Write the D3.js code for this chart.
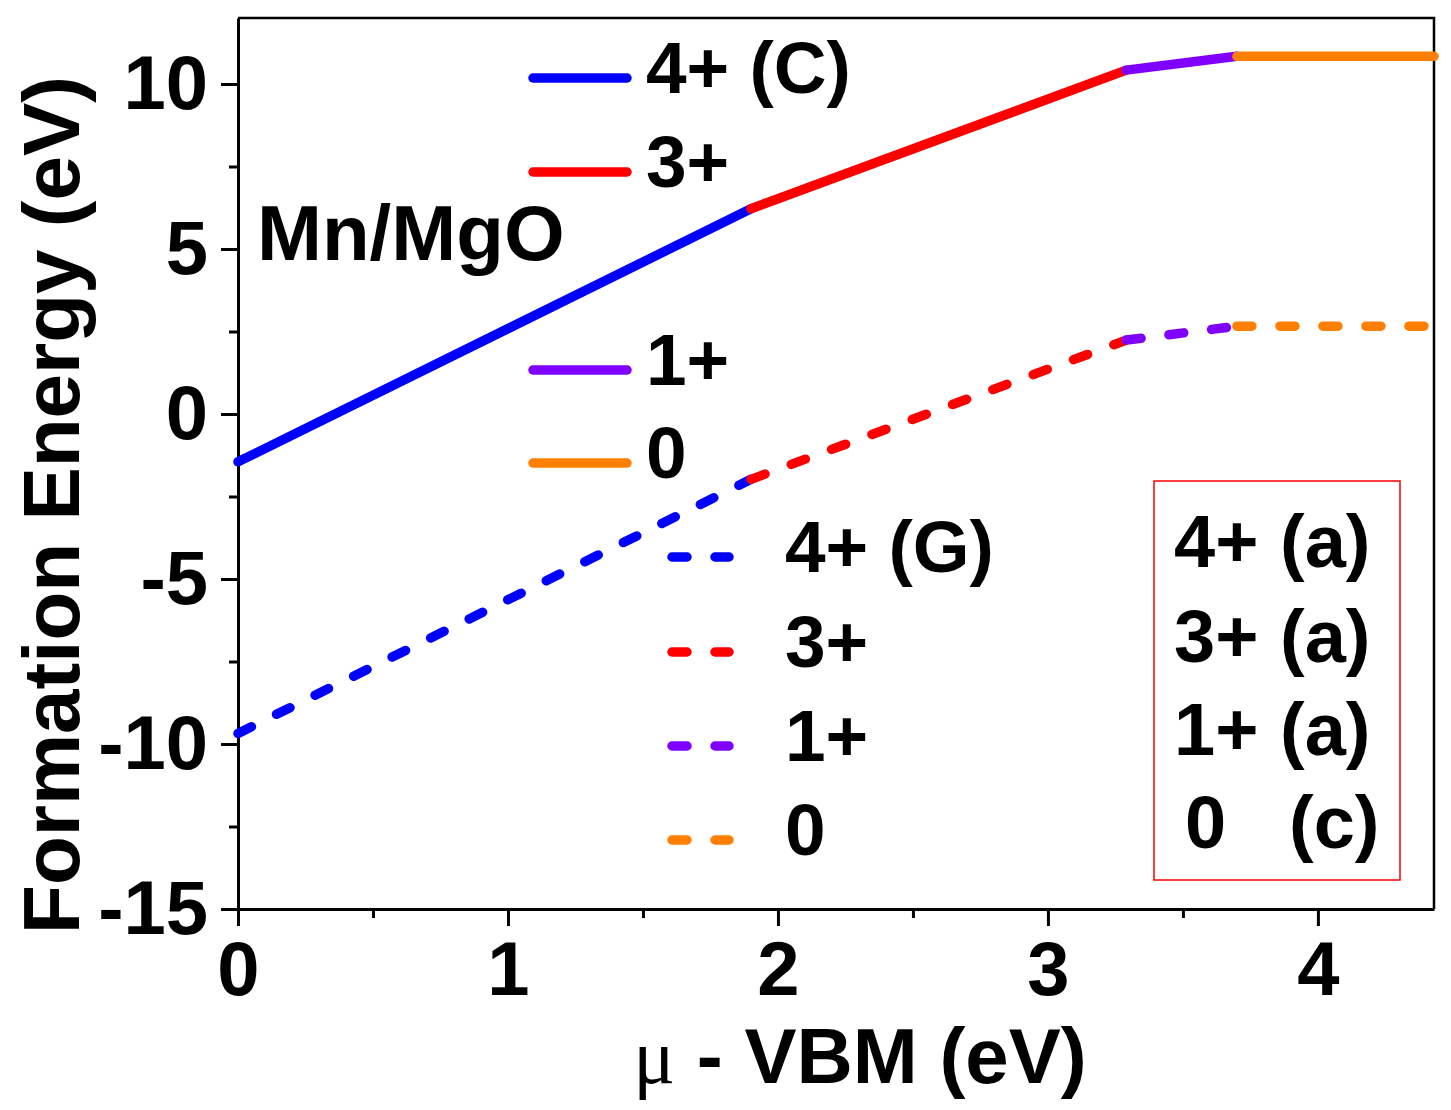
<!DOCTYPE html>
<html>
<head>
<meta charset="utf-8">
<script src="https://cdn.jsdelivr.net/npm/d3@7"></script>
<style>
  body { margin: 0; background: #fff; }
  svg text { font-family: "Liberation Sans", Arial, sans-serif; font-weight: bold; fill: #000; }
  .axis path, .axis line { stroke: #000; stroke-width: 3px; }
</style>
</head>
<body>
<div id="wrapper"></div>
<script>
// charge states and their colours
const charges = ['4+', '3+', '1+', '0'];
const chargeColors = ['#0000ff', '#ff0000', '#8000ff', '#ff8000'];

// breakpoints (mu - VBM) where the stable charge state changes
const breakX = [0, 1.9, 3.29, 3.7, 4.43];

// formation energy at those breakpoints
const solidE  = [-1.45, 6.22, 10.42, 10.84, 10.84];   // C site
const dashedE = [-9.68, -1.98, 2.24, 2.66, 2.66];     // G site

const solidLabels  = ['4+ (C)', '3+', '1+', '0'];
const dashedLabels = ['4+ (G)', '3+', '1+', '0'];
const boxLeft  = ['4+', '3+', '1+', '0'];
const boxRight = ['(a)', '(a)', '(a)', '(c)'];

const xTicks = [0, 1, 2, 3, 4];
const xMinor = [0.5, 1.5, 2.5, 3.5];
const yTicks = [-15, -10, -5, 0, 5, 10];
const yMinor = [-12.5, -7.5, -2.5, 2.5, 7.5];

let width = 1451, height = 1110;
let margin = { left: 238, top: 18, right: 17, bottom: 201 };

let svg = d3.select('div#wrapper')
  .append('svg')
  .attr('width', width)
  .attr('height', height);

let x = d3.scaleLinear()
  .domain([0, 4.43])
  .range([margin.left, width - margin.right]);

let y = d3.scaleLinear()
  .domain([-15, 12])
  .range([height - margin.bottom, margin.top]);

let plainNum = d => String(d);   // hyphen minus, no decimals

// frame (top / right)
svg.append('path')
  .attr('d', 'M' + x(0) + ',' + y(12) + 'H' + x(4.43) + 'V' + y(-15))
  .attr('fill', 'none')
  .attr('stroke', '#000')
  .attr('stroke-width', 2.5);

// minor ticks
svg.append('g')
  .attr('class', 'axis')
  .attr('transform', 'translate(0,' + y(-15) + ')')
  .call(d3.axisBottom(x).tickValues(xMinor).tickSize(9).tickFormat(''))
  .call(g => g.select('.domain').remove());

svg.append('g')
  .attr('class', 'axis')
  .attr('transform', 'translate(' + x(0) + ',0)')
  .call(d3.axisLeft(y).tickValues(yMinor).tickSize(9).tickFormat(''))
  .call(g => g.select('.domain').remove());

// major axes
let xAxis = svg.append('g')
  .attr('class', 'axis')
  .attr('transform', 'translate(0,' + y(-15) + ')')
  .call(d3.axisBottom(x).tickValues(xTicks).tickFormat(plainNum)
    .tickSizeInner(17).tickSizeOuter(0).tickPadding(15));
xAxis.selectAll('text').style('font-size', '76px').style('font-family', '"Liberation Sans", Arial, sans-serif');

let yAxis = svg.append('g')
  .attr('class', 'axis')
  .attr('transform', 'translate(' + x(0) + ',0)')
  .call(d3.axisLeft(y).tickValues(yTicks).tickFormat(plainNum)
    .tickSizeInner(17).tickSizeOuter(0).tickPadding(13));
yAxis.selectAll('text').style('font-size', '76px').style('font-family', '"Liberation Sans", Arial, sans-serif');

// curves: one path per charge-state segment
let line = d3.line().x(d => x(d[0])).y(d => y(d[1]));

function drawSegments(energies, dashed) {
  let g = svg.append('g');
  for (let i = 0; i < charges.length; i++) {
    let pts = [[breakX[i], energies[i]], [breakX[i + 1], energies[i + 1]]];
    g.append('path')
      .attr('d', line(pts))
      .attr('fill', 'none')
      .attr('stroke', chargeColors[i])
      .attr('stroke-width', 9.5)
      .attr('stroke-linecap', 'round')
      .attr('stroke-dasharray', dashed ? '15,28' : null);
  }
}
drawSegments(solidE, false);
drawSegments(dashedE, true);

// legend, solid lines
let solidRowsY = [78, 172, 370, 463];
let leg1 = svg.append('g');
solidLabels.forEach(function (lab, i) {
  leg1.append('line')
    .attr('x1', 533).attr('x2', 627)
    .attr('y1', solidRowsY[i]).attr('y2', solidRowsY[i])
    .attr('stroke', chargeColors[i]).attr('stroke-width', 9.5).attr('stroke-linecap', 'round');
  leg1.append('text')
    .attr('x', 646).attr('y', solidRowsY[i] + 15)
    .style('font-size', '73px')
    .text(lab);
});

// legend, dashed lines
let dashRowsY = [557, 652, 746, 840];
let leg2 = svg.append('g');
dashedLabels.forEach(function (lab, i) {
  leg2.append('line')
    .attr('x1', 672).attr('x2', 729)
    .attr('y1', dashRowsY[i]).attr('y2', dashRowsY[i])
    .attr('stroke', chargeColors[i]).attr('stroke-width', 9.5)
    .attr('stroke-linecap', 'round').attr('stroke-dasharray', '15,28');
  leg2.append('text')
    .attr('x', 785).attr('y', dashRowsY[i] + 15)
    .style('font-size', '73px')
    .text(lab);
});

// boxed note
svg.append('rect')
  .attr('x', 1154).attr('y', 481)
  .attr('width', 246).attr('height', 399)
  .attr('fill', 'none').attr('stroke', '#ff0000').attr('stroke-width', 1.5);

let boxRowsY = [567, 662, 755, 848];
boxLeft.forEach(function (lab, i) {
  svg.append('text')
    .attr('x', i === 3 ? 1185 : 1174).attr('y', boxRowsY[i])
    .style('font-size', '74px')
    .text(lab);
  svg.append('text')
    .attr('x', i === 3 ? 1289 : 1280).attr('y', boxRowsY[i])
    .style('font-size', '74px')
    .text(boxRight[i]);
});

// system label
svg.append('text')
  .attr('x', 257).attr('y', 260)
  .style('font-size', '78px')
  .text('Mn/MgO');

// axis titles
svg.append('text')
  .attr('text-anchor', 'middle')
  .attr('transform', 'translate(79,505) rotate(-90)')
  .style('font-size', '80px')
  .text('Formation Energy (eV)');

let xt = svg.append('text')
  .attr('text-anchor', 'middle')
  .attr('x', 860).attr('y', 1083)
  .style('font-size', '78px');
xt.append('tspan')
  .style('font-family', '"Liberation Serif", "DejaVu Serif", serif')
  .style('font-weight', 'normal')
  .text('\u03bc');
xt.append('tspan').text(' - VBM (eV)');
</script>
</body>
</html>
